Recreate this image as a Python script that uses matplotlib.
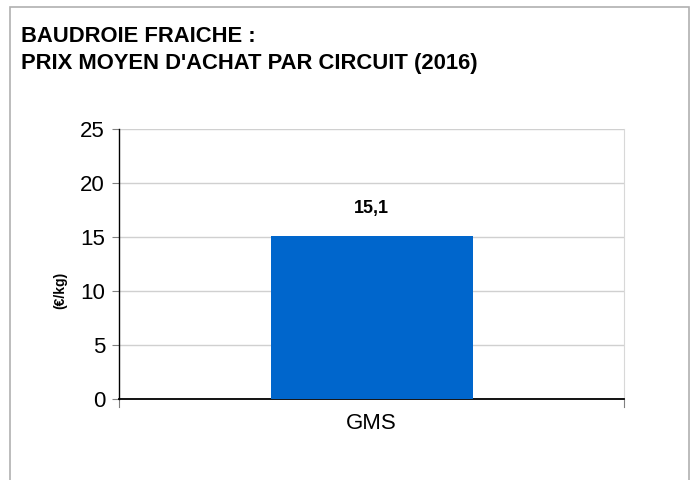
import matplotlib.pyplot as plt
from matplotlib.patches import Rectangle

# Average purchase price by sales channel
circuits = ['GMS']
prix = [15.1]
y_ticks = [0, 5, 10, 15, 20, 25]

W, H = 698, 480
plt.rcParams['font.family'] = ['Liberation Sans', 'DejaVu Sans']

fig = plt.figure(figsize=(W / 100, H / 100), dpi=100)

# outer frame (open at the bottom)
fig.patches.append(Rectangle((10 / W, -0.05), 679 / W, 1.05 - 7 / H,
                             transform=fig.transFigure, fill=False,
                             edgecolor='#b0b0b0', linewidth=1.2))

fig.text(21 / W, 1 - 37 / H, 'BAUDROIE FRAICHE :', fontsize=15.8, fontweight='bold',
         va='center', ha='left')
fig.text(21 / W, 1 - 63 / H, "PRIX MOYEN D'ACHAT PAR CIRCUIT (2016)", fontsize=15.8,
         fontweight='bold', va='center', ha='left')

left, right, top, bottom = 119, 624, 129, 399
ax = fig.add_axes([left / W, 1 - bottom / H, (right - left) / W, (bottom - top) / H])

bars = ax.bar(circuits, prix, width=0.4, color='#0066CC', zorder=3)
ax.set_xlim(-0.5, 0.5)
ax.set_ylim(0, 25)
ax.set_yticks(y_ticks)
ax.yaxis.grid(True, color='#d0d0d0', linewidth=1)
ax.set_axisbelow(True)

ax.spines['top'].set_visible(False)
ax.spines['right'].set_color('#d8d8d8')
ax.spines['left'].set_color('black')
ax.spines['bottom'].set_color('black')
ax.spines['left'].set_linewidth(1)
ax.spines['bottom'].set_linewidth(1.3)

ax.tick_params(axis='y', length=5, width=0.8, color='#808080', labelsize=16, pad=5)
ax.tick_params(axis='x', length=0, labelsize=16, pad=10)
# small end ticks on the category axis
for xv in [-0.5, 0.5]:
    ax.plot([xv, xv], [0, -0.7], color='#808080', linewidth=0.8, clip_on=False)

ax.set_ylabel('(€/kg)', fontsize=10, fontweight='bold', va='center')
ax.yaxis.set_label_coords(-0.117, 0.404)

for bar, value in zip(bars, prix):
    ax.text(bar.get_x() + bar.get_width() / 2, bar.get_height() + 2.5,
            f'{value:.1f}'.replace('.', ','), ha='center', va='center',
            fontsize=13, fontweight='bold')

fig.savefig('out.png', dpi=100)
